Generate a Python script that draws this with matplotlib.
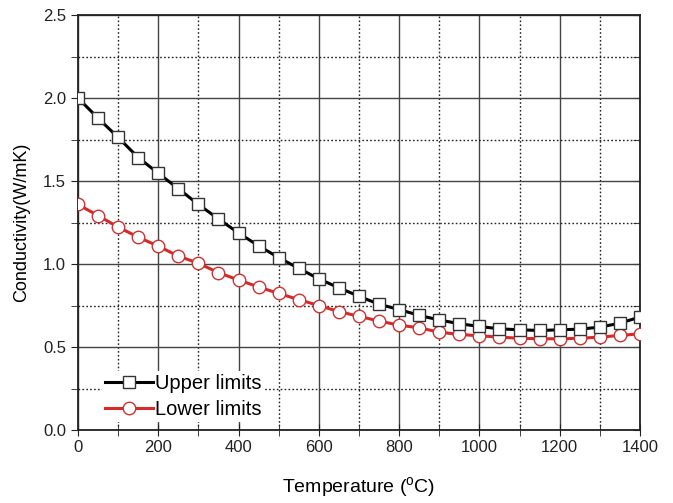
import matplotlib
matplotlib.use("Agg")
import matplotlib.pyplot as plt
from matplotlib.ticker import MultipleLocator

plt.rcParams['font.family'] = ['Liberation Sans', 'DejaVu Sans']
plt.rcParams['mathtext.fontset'] = 'custom'
plt.rcParams['mathtext.rm'] = 'Liberation Sans'

# temperature (degC), every 50 from 0 to 1400
temperature = [0, 50, 100, 150, 200, 250, 300, 350, 400, 450, 500, 550, 600, 650, 700,
               750, 800, 850, 900, 950, 1000, 1050, 1100, 1150, 1200, 1250, 1300, 1350, 1400]
upper_limits = [2.00, 1.879, 1.763, 1.642, 1.547, 1.454, 1.359, 1.272, 1.187, 1.110,
                1.039, 0.974, 0.911, 0.857, 0.806, 0.758, 0.726, 0.691, 0.663, 0.641,
                0.624, 0.610, 0.604, 0.600, 0.604, 0.608, 0.620, 0.644, 0.681]
lower_limits = [1.359, 1.292, 1.223, 1.162, 1.108, 1.048, 1.005, 0.948, 0.904, 0.862,
                0.823, 0.786, 0.750, 0.714, 0.685, 0.657, 0.632, 0.616, 0.590, 0.576,
                0.568, 0.560, 0.553, 0.550, 0.550, 0.553, 0.560, 0.570, 0.580]

fig = plt.figure(figsize=(6.73, 5.03), dpi=100)
ax = fig.add_axes([0.1159, 0.145, 0.835, 0.825])

ax.plot(temperature, upper_limits, color='black', lw=2.2, marker='s', ms=8,
        mfc='white', mec='#333333', mew=1.0, label='Upper limits', zorder=4)
ax.plot(temperature, lower_limits, color='#d42a2a', lw=2.2, marker='o', ms=9,
        mfc='white', mec='#cc3333', mew=1.0, label='Lower limits', zorder=3)

ax.set_xlim(0, 1400)
ax.set_ylim(0, 2.5)
ax.xaxis.set_major_locator(MultipleLocator(200))
ax.xaxis.set_minor_locator(MultipleLocator(100))
ax.yaxis.set_major_locator(MultipleLocator(0.5))
ax.yaxis.set_minor_locator(MultipleLocator(0.25))
ax.yaxis.set_major_formatter(plt.FormatStrFormatter('%.1f'))

ax.grid(which='major', color='#444444', lw=1.0, ls='-')
ax.grid(which='minor', color='#222222', lw=1.0, ls=(0, (1.2, 1.6)))
ax.set_axisbelow(True)

ax.tick_params(which='both', labelsize=12, colors='#222222')
ax.tick_params(axis='x', which='both', direction='inout', length=8)
ax.tick_params(axis='y', which='both', direction='out', length=5)

# inward ticks on the right edge
right = ax.secondary_yaxis('right')
right.yaxis.set_major_locator(MultipleLocator(0.5))
right.yaxis.set_minor_locator(MultipleLocator(0.25))
right.tick_params(which='both', direction='in', length=5, labelright=False, colors='#222222')
right.spines['right'].set_visible(False)

for s in ax.spines.values():
    s.set_color('#222222')
    s.set_linewidth(1.3)

ax.set_xlabel(r'Temperature ($^{\rm o}$C)', fontsize=14, labelpad=14)
ax.set_ylabel('Conductivity(W/mK)', fontsize=13, labelpad=9)

leg = ax.legend(loc='lower left', bbox_to_anchor=(0.025, -0.005), fontsize=14.5,
                frameon=True, edgecolor='none', facecolor='white', framealpha=1,
                handlelength=2.4, handletextpad=0.1, borderpad=0.15, labelspacing=0.35)

fig.savefig('out.png', dpi=100)
